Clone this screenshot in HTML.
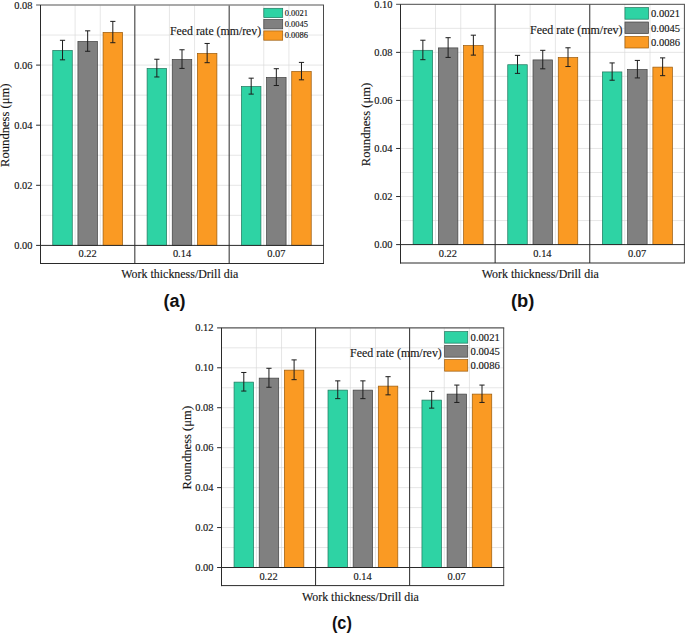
<!DOCTYPE html>
<html><head><meta charset="utf-8"><title>Roundness charts</title>
<style>
html,body{margin:0;padding:0;background:#fff;}
body{width:685px;height:633px;overflow:hidden;font-family:"Liberation Serif",serif;}
svg{display:block;}
svg text{font-family:"Liberation Serif",serif;fill:#151515;stroke:#151515;stroke-width:0.14px;}
svg text.cap{font-family:"Liberation Sans",sans-serif;font-weight:bold;font-size:18px;fill:#111;stroke:none;}
</style></head><body>
<svg width="685" height="633" viewBox="0 0 685 633">
<rect width="685" height="633" fill="#fff"/>
<g id="chart-a">
<line x1="40.5" x2="323.5" y1="215.35" y2="215.35" stroke="#D8D8D8" stroke-width="0.65"/>
<line x1="40.5" x2="323.5" y1="185.3" y2="185.3" stroke="#D8D8D8" stroke-width="0.65"/>
<line x1="40.5" x2="323.5" y1="155.25" y2="155.25" stroke="#D8D8D8" stroke-width="0.65"/>
<line x1="40.5" x2="323.5" y1="125.2" y2="125.2" stroke="#D8D8D8" stroke-width="0.65"/>
<line x1="40.5" x2="323.5" y1="95.15" y2="95.15" stroke="#D8D8D8" stroke-width="0.65"/>
<line x1="40.5" x2="323.5" y1="65.1" y2="65.1" stroke="#D8D8D8" stroke-width="0.65"/>
<line x1="40.5" x2="323.5" y1="35.05" y2="35.05" stroke="#D8D8D8" stroke-width="0.65"/>
<line x1="75.09" x2="75.09" y1="5" y2="245.4" stroke="#D8D8D8" stroke-width="0.65"/>
<line x1="100.24" x2="100.24" y1="5" y2="245.4" stroke="#D8D8D8" stroke-width="0.65"/>
<line x1="169.43" x2="169.43" y1="5" y2="245.4" stroke="#D8D8D8" stroke-width="0.65"/>
<line x1="194.57" x2="194.57" y1="5" y2="245.4" stroke="#D8D8D8" stroke-width="0.65"/>
<line x1="263.76" x2="263.76" y1="5" y2="245.4" stroke="#D8D8D8" stroke-width="0.65"/>
<line x1="288.91" x2="288.91" y1="5" y2="245.4" stroke="#D8D8D8" stroke-width="0.65"/>
<rect x="52.77" y="50.42" width="19.5" height="194.98" fill="#2ED3A4" stroke="#1F755C" stroke-width="0.7"/>
<rect x="77.92" y="41.41" width="19.5" height="203.99" fill="#808080" stroke="#404040" stroke-width="0.7"/>
<rect x="103.07" y="32.4" width="19.5" height="213" fill="#FA9A23" stroke="#98590B" stroke-width="0.7"/>
<rect x="147.1" y="68.46" width="19.5" height="176.94" fill="#2ED3A4" stroke="#1F755C" stroke-width="0.7"/>
<rect x="172.25" y="59.44" width="19.5" height="185.96" fill="#808080" stroke="#404040" stroke-width="0.7"/>
<rect x="197.4" y="53.43" width="19.5" height="191.97" fill="#FA9A23" stroke="#98590B" stroke-width="0.7"/>
<rect x="241.43" y="86.49" width="19.5" height="158.91" fill="#2ED3A4" stroke="#1F755C" stroke-width="0.7"/>
<rect x="266.58" y="77.47" width="19.5" height="167.93" fill="#808080" stroke="#404040" stroke-width="0.7"/>
<rect x="291.73" y="71.46" width="19.5" height="173.94" fill="#FA9A23" stroke="#98590B" stroke-width="0.7"/>
<path d="M62.52 40.31V59.84M59.92 40.31H65.12M59.92 59.84H65.12" stroke="#1c1c1c" stroke-width="1" fill="none"/>
<path d="M87.67 30.84V51.28M85.07 30.84H90.27M85.07 51.28H90.27" stroke="#1c1c1c" stroke-width="1" fill="none"/>
<path d="M112.82 21.38V42.71M110.22 21.38H115.42M110.22 42.71H115.42" stroke="#1c1c1c" stroke-width="1" fill="none"/>
<path d="M156.85 59.24V76.97M154.25 59.24H159.45M154.25 76.97H159.45" stroke="#1c1c1c" stroke-width="1" fill="none"/>
<path d="M182 49.77V68.41M179.4 49.77H184.6M179.4 68.41H184.6" stroke="#1c1c1c" stroke-width="1" fill="none"/>
<path d="M207.15 43.46V62.7M204.55 43.46H209.75M204.55 62.7H209.75" stroke="#1c1c1c" stroke-width="1" fill="none"/>
<path d="M251.18 78.17V94.1M248.58 78.17H253.78M248.58 94.1H253.78" stroke="#1c1c1c" stroke-width="1" fill="none"/>
<path d="M276.33 68.71V85.53M273.73 68.71H278.93M273.73 85.53H278.93" stroke="#1c1c1c" stroke-width="1" fill="none"/>
<path d="M301.48 62.4V79.82M298.88 62.4H304.08M298.88 79.82H304.08" stroke="#1c1c1c" stroke-width="1" fill="none"/>
<line x1="134.83" x2="134.83" y1="5" y2="263.5" stroke="#2a2a2a" stroke-width="1"/>
<line x1="229.17" x2="229.17" y1="5" y2="263.5" stroke="#2a2a2a" stroke-width="1"/>
<line x1="36.1" x2="324" y1="5" y2="5" stroke="#8c8c8c" stroke-width="1.3"/>
<line x1="323.5" x2="323.5" y1="5" y2="263.5" stroke="#4a4a4a" stroke-width="1"/>
<line x1="40.5" x2="40.5" y1="5" y2="264" stroke="#2a2a2a" stroke-width="1"/>
<line x1="36.1" x2="324" y1="245.4" y2="245.4" stroke="#2a2a2a" stroke-width="1"/>
<line x1="40" x2="324" y1="263.5" y2="263.5" stroke="#2a2a2a" stroke-width="1"/>
<text x="32.4" y="248.9" text-anchor="end" font-size="10.4" textLength="18.2" lengthAdjust="spacingAndGlyphs">0.00</text>
<line x1="36.1" x2="40.5" y1="185.3" y2="185.3" stroke="#2a2a2a" stroke-width="1"/>
<text x="32.4" y="188.8" text-anchor="end" font-size="10.4" textLength="18.2" lengthAdjust="spacingAndGlyphs">0.02</text>
<line x1="36.1" x2="40.5" y1="125.2" y2="125.2" stroke="#2a2a2a" stroke-width="1"/>
<text x="32.4" y="128.7" text-anchor="end" font-size="10.4" textLength="18.2" lengthAdjust="spacingAndGlyphs">0.04</text>
<line x1="36.1" x2="40.5" y1="65.1" y2="65.1" stroke="#2a2a2a" stroke-width="1"/>
<text x="32.4" y="68.6" text-anchor="end" font-size="10.4" textLength="18.2" lengthAdjust="spacingAndGlyphs">0.06</text>
<text x="32.4" y="8.5" text-anchor="end" font-size="10.4" textLength="18.2" lengthAdjust="spacingAndGlyphs">0.08</text>
<text x="87.67" y="257.4" text-anchor="middle" font-size="10.4" textLength="18.2" lengthAdjust="spacingAndGlyphs">0.22</text>
<text x="182" y="257.4" text-anchor="middle" font-size="10.4" textLength="18.2" lengthAdjust="spacingAndGlyphs">0.14</text>
<text x="276.33" y="257.4" text-anchor="middle" font-size="10.4" textLength="18.2" lengthAdjust="spacingAndGlyphs">0.07</text>
<text x="179.8" y="278.2" text-anchor="middle" font-size="12" textLength="117" lengthAdjust="spacingAndGlyphs">Work thickness/Drill dia</text>
<text transform="translate(9.3 125.2) rotate(-90)" text-anchor="middle" font-size="12" textLength="83.5" lengthAdjust="spacingAndGlyphs">Roundness (μm)</text>
<text x="170" y="34.8" font-size="12" textLength="91.2" lengthAdjust="spacingAndGlyphs">Feed rate (mm/rev)</text>
<rect x="263.8" y="8.3" width="18.9" height="9.3" fill="#2ED3A4" stroke="#1F755C" stroke-width="0.7"/>
<text x="284.7" y="15.76" font-size="8.5" textLength="23.2" lengthAdjust="spacingAndGlyphs">0.0021</text>
<rect x="263.8" y="19.6" width="18.9" height="9.3" fill="#808080" stroke="#404040" stroke-width="0.7"/>
<text x="284.7" y="27.05" font-size="8.5" textLength="23.2" lengthAdjust="spacingAndGlyphs">0.0045</text>
<rect x="263.8" y="30.9" width="18.9" height="9.3" fill="#FA9A23" stroke="#98590B" stroke-width="0.7"/>
<text x="284.7" y="38.36" font-size="8.5" textLength="23.2" lengthAdjust="spacingAndGlyphs">0.0086</text>
<text x="174.6" y="307" text-anchor="middle" class="cap" textLength="22" lengthAdjust="spacingAndGlyphs">(a)</text>
</g>
<g id="chart-b">
<line x1="400.5" x2="684.4" y1="220.57" y2="220.57" stroke="#D8D8D8" stroke-width="0.65"/>
<line x1="400.5" x2="684.4" y1="196.54" y2="196.54" stroke="#D8D8D8" stroke-width="0.65"/>
<line x1="400.5" x2="684.4" y1="172.51" y2="172.51" stroke="#D8D8D8" stroke-width="0.65"/>
<line x1="400.5" x2="684.4" y1="148.48" y2="148.48" stroke="#D8D8D8" stroke-width="0.65"/>
<line x1="400.5" x2="684.4" y1="124.45" y2="124.45" stroke="#D8D8D8" stroke-width="0.65"/>
<line x1="400.5" x2="684.4" y1="100.42" y2="100.42" stroke="#D8D8D8" stroke-width="0.65"/>
<line x1="400.5" x2="684.4" y1="76.39" y2="76.39" stroke="#D8D8D8" stroke-width="0.65"/>
<line x1="400.5" x2="684.4" y1="52.36" y2="52.36" stroke="#D8D8D8" stroke-width="0.65"/>
<line x1="400.5" x2="684.4" y1="28.33" y2="28.33" stroke="#D8D8D8" stroke-width="0.65"/>
<line x1="435.49" x2="435.49" y1="4.3" y2="244.6" stroke="#D8D8D8" stroke-width="0.65"/>
<line x1="460.74" x2="460.74" y1="4.3" y2="244.6" stroke="#D8D8D8" stroke-width="0.65"/>
<line x1="530.12" x2="530.12" y1="4.3" y2="244.6" stroke="#D8D8D8" stroke-width="0.65"/>
<line x1="555.38" x2="555.38" y1="4.3" y2="244.6" stroke="#D8D8D8" stroke-width="0.65"/>
<line x1="624.76" x2="624.76" y1="4.3" y2="244.6" stroke="#D8D8D8" stroke-width="0.65"/>
<line x1="650.01" x2="650.01" y1="4.3" y2="244.6" stroke="#D8D8D8" stroke-width="0.65"/>
<rect x="413.12" y="50.31" width="19.5" height="194.29" fill="#2ED3A4" stroke="#1F755C" stroke-width="0.7"/>
<rect x="438.37" y="47.9" width="19.5" height="196.7" fill="#808080" stroke="#404040" stroke-width="0.7"/>
<rect x="463.62" y="45.5" width="19.5" height="199.1" fill="#FA9A23" stroke="#98590B" stroke-width="0.7"/>
<rect x="507.75" y="64.73" width="19.5" height="179.87" fill="#2ED3A4" stroke="#1F755C" stroke-width="0.7"/>
<rect x="533" y="59.92" width="19.5" height="184.68" fill="#808080" stroke="#404040" stroke-width="0.7"/>
<rect x="558.25" y="57.52" width="19.5" height="187.08" fill="#FA9A23" stroke="#98590B" stroke-width="0.7"/>
<rect x="602.38" y="71.93" width="19.5" height="172.67" fill="#2ED3A4" stroke="#1F755C" stroke-width="0.7"/>
<rect x="627.63" y="69.53" width="19.5" height="175.07" fill="#808080" stroke="#404040" stroke-width="0.7"/>
<rect x="652.88" y="67.13" width="19.5" height="177.47" fill="#FA9A23" stroke="#98590B" stroke-width="0.7"/>
<path d="M422.87 40.22V59.69M420.27 40.22H425.47M420.27 59.69H425.47" stroke="#1c1c1c" stroke-width="1" fill="none"/>
<path d="M448.12 37.7V57.41M445.52 37.7H450.72M445.52 57.41H450.72" stroke="#1c1c1c" stroke-width="1" fill="none"/>
<path d="M473.37 35.18V55.12M470.77 35.18H475.97M470.77 55.12H475.97" stroke="#1c1c1c" stroke-width="1" fill="none"/>
<path d="M517.5 55.36V73.39M514.9 55.36H520.1M514.9 73.39H520.1" stroke="#1c1c1c" stroke-width="1" fill="none"/>
<path d="M542.75 50.32V68.82M540.15 50.32H545.35M540.15 68.82H545.35" stroke="#1c1c1c" stroke-width="1" fill="none"/>
<path d="M568 47.79V66.54M565.4 47.79H570.6M565.4 66.54H570.6" stroke="#1c1c1c" stroke-width="1" fill="none"/>
<path d="M612.13 62.93V80.23M609.53 62.93H614.73M609.53 80.23H614.73" stroke="#1c1c1c" stroke-width="1" fill="none"/>
<path d="M637.38 60.41V77.95M634.78 60.41H639.98M634.78 77.95H639.98" stroke="#1c1c1c" stroke-width="1" fill="none"/>
<path d="M662.63 57.89V75.67M660.03 57.89H665.23M660.03 75.67H665.23" stroke="#1c1c1c" stroke-width="1" fill="none"/>
<line x1="495.13" x2="495.13" y1="4.3" y2="263" stroke="#2a2a2a" stroke-width="1"/>
<line x1="589.77" x2="589.77" y1="4.3" y2="263" stroke="#2a2a2a" stroke-width="1"/>
<line x1="396.1" x2="684.9" y1="4.3" y2="4.3" stroke="#4a4a4a" stroke-width="1"/>
<line x1="684.4" x2="684.4" y1="4.3" y2="263" stroke="#4a4a4a" stroke-width="1"/>
<line x1="400.5" x2="400.5" y1="4.3" y2="263.5" stroke="#2a2a2a" stroke-width="1"/>
<line x1="396.1" x2="684.9" y1="244.6" y2="244.6" stroke="#2a2a2a" stroke-width="1"/>
<line x1="400" x2="684.9" y1="263" y2="263" stroke="#2a2a2a" stroke-width="1"/>
<text x="392.4" y="248.1" text-anchor="end" font-size="10.4" textLength="18.2" lengthAdjust="spacingAndGlyphs">0.00</text>
<line x1="396.1" x2="400.5" y1="196.54" y2="196.54" stroke="#2a2a2a" stroke-width="1"/>
<text x="392.4" y="200.04" text-anchor="end" font-size="10.4" textLength="18.2" lengthAdjust="spacingAndGlyphs">0.02</text>
<line x1="396.1" x2="400.5" y1="148.48" y2="148.48" stroke="#2a2a2a" stroke-width="1"/>
<text x="392.4" y="151.98" text-anchor="end" font-size="10.4" textLength="18.2" lengthAdjust="spacingAndGlyphs">0.04</text>
<line x1="396.1" x2="400.5" y1="100.42" y2="100.42" stroke="#2a2a2a" stroke-width="1"/>
<text x="392.4" y="103.92" text-anchor="end" font-size="10.4" textLength="18.2" lengthAdjust="spacingAndGlyphs">0.06</text>
<line x1="396.1" x2="400.5" y1="52.36" y2="52.36" stroke="#2a2a2a" stroke-width="1"/>
<text x="392.4" y="55.86" text-anchor="end" font-size="10.4" textLength="18.2" lengthAdjust="spacingAndGlyphs">0.08</text>
<text x="392.4" y="7.8" text-anchor="end" font-size="10.4" textLength="18.2" lengthAdjust="spacingAndGlyphs">0.10</text>
<text x="447.82" y="256.6" text-anchor="middle" font-size="10.4" textLength="18.2" lengthAdjust="spacingAndGlyphs">0.22</text>
<text x="542.45" y="256.6" text-anchor="middle" font-size="10.4" textLength="18.2" lengthAdjust="spacingAndGlyphs">0.14</text>
<text x="637.08" y="256.6" text-anchor="middle" font-size="10.4" textLength="18.2" lengthAdjust="spacingAndGlyphs">0.07</text>
<text x="540.25" y="277.7" text-anchor="middle" font-size="12" textLength="117" lengthAdjust="spacingAndGlyphs">Work thickness/Drill dia</text>
<text transform="translate(369.7 124.45) rotate(-90)" text-anchor="middle" font-size="12" textLength="83.5" lengthAdjust="spacingAndGlyphs">Roundness (μm)</text>
<text x="530.1" y="33.8" font-size="12" textLength="92.3" lengthAdjust="spacingAndGlyphs">Feed rate (mm/rev)</text>
<rect x="624.95" y="7.6" width="23.6" height="11.6" fill="#2ED3A4" stroke="#1F755C" stroke-width="0.7"/>
<text x="651" y="17.1" font-size="11.2" textLength="29" lengthAdjust="spacingAndGlyphs">0.0021</text>
<rect x="624.95" y="22" width="23.6" height="11.6" fill="#808080" stroke="#404040" stroke-width="0.7"/>
<text x="651" y="31.5" font-size="11.2" textLength="29" lengthAdjust="spacingAndGlyphs">0.0045</text>
<rect x="624.95" y="36.4" width="23.6" height="11.6" fill="#FA9A23" stroke="#98590B" stroke-width="0.7"/>
<text x="651" y="45.9" font-size="11.2" textLength="29" lengthAdjust="spacingAndGlyphs">0.0086</text>
<text x="522.6" y="307" text-anchor="middle" class="cap" textLength="23.4" lengthAdjust="spacingAndGlyphs">(b)</text>
</g>
<g id="chart-c">
<line x1="221.5" x2="503.7" y1="547.53" y2="547.53" stroke="#D8D8D8" stroke-width="0.65"/>
<line x1="221.5" x2="503.7" y1="527.56" y2="527.56" stroke="#D8D8D8" stroke-width="0.65"/>
<line x1="221.5" x2="503.7" y1="507.59" y2="507.59" stroke="#D8D8D8" stroke-width="0.65"/>
<line x1="221.5" x2="503.7" y1="487.62" y2="487.62" stroke="#D8D8D8" stroke-width="0.65"/>
<line x1="221.5" x2="503.7" y1="467.65" y2="467.65" stroke="#D8D8D8" stroke-width="0.65"/>
<line x1="221.5" x2="503.7" y1="447.68" y2="447.68" stroke="#D8D8D8" stroke-width="0.65"/>
<line x1="221.5" x2="503.7" y1="427.7" y2="427.7" stroke="#D8D8D8" stroke-width="0.65"/>
<line x1="221.5" x2="503.7" y1="407.73" y2="407.73" stroke="#D8D8D8" stroke-width="0.65"/>
<line x1="221.5" x2="503.7" y1="387.76" y2="387.76" stroke="#D8D8D8" stroke-width="0.65"/>
<line x1="221.5" x2="503.7" y1="367.79" y2="367.79" stroke="#D8D8D8" stroke-width="0.65"/>
<line x1="221.5" x2="503.7" y1="347.82" y2="347.82" stroke="#D8D8D8" stroke-width="0.65"/>
<line x1="256.38" x2="256.38" y1="327.85" y2="567.5" stroke="#D8D8D8" stroke-width="0.65"/>
<line x1="281.53" x2="281.53" y1="327.85" y2="567.5" stroke="#D8D8D8" stroke-width="0.65"/>
<line x1="350.33" x2="350.33" y1="327.85" y2="567.5" stroke="#D8D8D8" stroke-width="0.65"/>
<line x1="375.48" x2="375.48" y1="327.85" y2="567.5" stroke="#D8D8D8" stroke-width="0.65"/>
<line x1="444.28" x2="444.28" y1="327.85" y2="567.5" stroke="#D8D8D8" stroke-width="0.65"/>
<line x1="469.43" x2="469.43" y1="327.85" y2="567.5" stroke="#D8D8D8" stroke-width="0.65"/>
<rect x="234.05" y="382.12" width="19.5" height="185.38" fill="#2ED3A4" stroke="#1F755C" stroke-width="0.7"/>
<rect x="259.2" y="378.13" width="19.5" height="189.37" fill="#808080" stroke="#404040" stroke-width="0.7"/>
<rect x="284.35" y="370.14" width="19.5" height="197.36" fill="#FA9A23" stroke="#98590B" stroke-width="0.7"/>
<rect x="328" y="390.11" width="19.5" height="177.39" fill="#2ED3A4" stroke="#1F755C" stroke-width="0.7"/>
<rect x="353.15" y="390.11" width="19.5" height="177.39" fill="#808080" stroke="#404040" stroke-width="0.7"/>
<rect x="378.3" y="386.12" width="19.5" height="181.38" fill="#FA9A23" stroke="#98590B" stroke-width="0.7"/>
<rect x="421.95" y="400.1" width="19.5" height="167.41" fill="#2ED3A4" stroke="#1F755C" stroke-width="0.7"/>
<rect x="447.1" y="394.1" width="19.5" height="173.4" fill="#808080" stroke="#404040" stroke-width="0.7"/>
<rect x="472.25" y="394.1" width="19.5" height="173.4" fill="#FA9A23" stroke="#98590B" stroke-width="0.7"/>
<path d="M243.8 372.48V391.06M241.2 372.48H246.4M241.2 391.06H246.4" stroke="#1c1c1c" stroke-width="1" fill="none"/>
<path d="M268.95 368.29V387.26M266.35 368.29H271.55M266.35 387.26H271.55" stroke="#1c1c1c" stroke-width="1" fill="none"/>
<path d="M294.1 359.9V379.67M291.5 359.9H296.7M291.5 379.67H296.7" stroke="#1c1c1c" stroke-width="1" fill="none"/>
<path d="M337.75 380.87V398.65M335.15 380.87H340.35M335.15 398.65H340.35" stroke="#1c1c1c" stroke-width="1" fill="none"/>
<path d="M362.9 380.87V398.65M360.3 380.87H365.5M360.3 398.65H365.5" stroke="#1c1c1c" stroke-width="1" fill="none"/>
<path d="M388.05 376.68V394.85M385.45 376.68H390.65M385.45 394.85H390.65" stroke="#1c1c1c" stroke-width="1" fill="none"/>
<path d="M431.7 391.36V408.13M429.1 391.36H434.3M429.1 408.13H434.3" stroke="#1c1c1c" stroke-width="1" fill="none"/>
<path d="M456.85 385.07V402.44M454.25 385.07H459.45M454.25 402.44H459.45" stroke="#1c1c1c" stroke-width="1" fill="none"/>
<path d="M482 385.07V402.44M479.4 385.07H484.6M479.4 402.44H484.6" stroke="#1c1c1c" stroke-width="1" fill="none"/>
<line x1="315.57" x2="315.57" y1="327.85" y2="585.6" stroke="#2a2a2a" stroke-width="1"/>
<line x1="409.63" x2="409.63" y1="327.85" y2="585.6" stroke="#2a2a2a" stroke-width="1"/>
<line x1="217.1" x2="504.2" y1="327.85" y2="327.85" stroke="#555" stroke-width="1.3"/>
<line x1="503.7" x2="503.7" y1="327.85" y2="585.6" stroke="#4a4a4a" stroke-width="1"/>
<line x1="221.5" x2="221.5" y1="327.85" y2="586.1" stroke="#2a2a2a" stroke-width="1"/>
<line x1="217.1" x2="504.2" y1="567.5" y2="567.5" stroke="#2a2a2a" stroke-width="1"/>
<line x1="221" x2="504.2" y1="585.6" y2="585.6" stroke="#2a2a2a" stroke-width="1"/>
<text x="213.4" y="571" text-anchor="end" font-size="10.4" textLength="18.2" lengthAdjust="spacingAndGlyphs">0.00</text>
<line x1="217.1" x2="221.5" y1="527.56" y2="527.56" stroke="#2a2a2a" stroke-width="1"/>
<text x="213.4" y="531.06" text-anchor="end" font-size="10.4" textLength="18.2" lengthAdjust="spacingAndGlyphs">0.02</text>
<line x1="217.1" x2="221.5" y1="487.62" y2="487.62" stroke="#2a2a2a" stroke-width="1"/>
<text x="213.4" y="491.12" text-anchor="end" font-size="10.4" textLength="18.2" lengthAdjust="spacingAndGlyphs">0.04</text>
<line x1="217.1" x2="221.5" y1="447.68" y2="447.68" stroke="#2a2a2a" stroke-width="1"/>
<text x="213.4" y="451.18" text-anchor="end" font-size="10.4" textLength="18.2" lengthAdjust="spacingAndGlyphs">0.06</text>
<line x1="217.1" x2="221.5" y1="407.73" y2="407.73" stroke="#2a2a2a" stroke-width="1"/>
<text x="213.4" y="411.23" text-anchor="end" font-size="10.4" textLength="18.2" lengthAdjust="spacingAndGlyphs">0.08</text>
<line x1="217.1" x2="221.5" y1="367.79" y2="367.79" stroke="#2a2a2a" stroke-width="1"/>
<text x="213.4" y="371.29" text-anchor="end" font-size="10.4" textLength="18.2" lengthAdjust="spacingAndGlyphs">0.10</text>
<text x="213.4" y="331.35" text-anchor="end" font-size="10.4" textLength="18.2" lengthAdjust="spacingAndGlyphs">0.12</text>
<text x="268.53" y="579.5" text-anchor="middle" font-size="10.4" textLength="18.2" lengthAdjust="spacingAndGlyphs">0.22</text>
<text x="362.6" y="579.5" text-anchor="middle" font-size="10.4" textLength="18.2" lengthAdjust="spacingAndGlyphs">0.14</text>
<text x="456.67" y="579.5" text-anchor="middle" font-size="10.4" textLength="18.2" lengthAdjust="spacingAndGlyphs">0.07</text>
<text x="360.4" y="601.3" text-anchor="middle" font-size="12" textLength="117" lengthAdjust="spacingAndGlyphs">Work thickness/Drill dia</text>
<text transform="translate(190.8 447.68) rotate(-90)" text-anchor="middle" font-size="12" textLength="83.5" lengthAdjust="spacingAndGlyphs">Roundness (μm)</text>
<text x="350.1" y="356.8" font-size="12" textLength="91.7" lengthAdjust="spacingAndGlyphs">Feed rate (mm/rev)</text>
<rect x="444.65" y="331.65" width="23.1" height="11.5" fill="#2ED3A4" stroke="#1F755C" stroke-width="0.7"/>
<text x="470.6" y="341.1" font-size="11.2" textLength="29.2" lengthAdjust="spacingAndGlyphs">0.0021</text>
<rect x="444.65" y="345.65" width="23.1" height="11.5" fill="#808080" stroke="#404040" stroke-width="0.7"/>
<text x="470.6" y="355.1" font-size="11.2" textLength="29.2" lengthAdjust="spacingAndGlyphs">0.0045</text>
<rect x="444.65" y="359.65" width="23.1" height="11.5" fill="#FA9A23" stroke="#98590B" stroke-width="0.7"/>
<text x="470.6" y="369.1" font-size="11.2" textLength="29.2" lengthAdjust="spacingAndGlyphs">0.0086</text>
<text x="341.9" y="628.7" text-anchor="middle" class="cap" textLength="20" lengthAdjust="spacingAndGlyphs">(c)</text>
</g>
</svg>
</body></html>
